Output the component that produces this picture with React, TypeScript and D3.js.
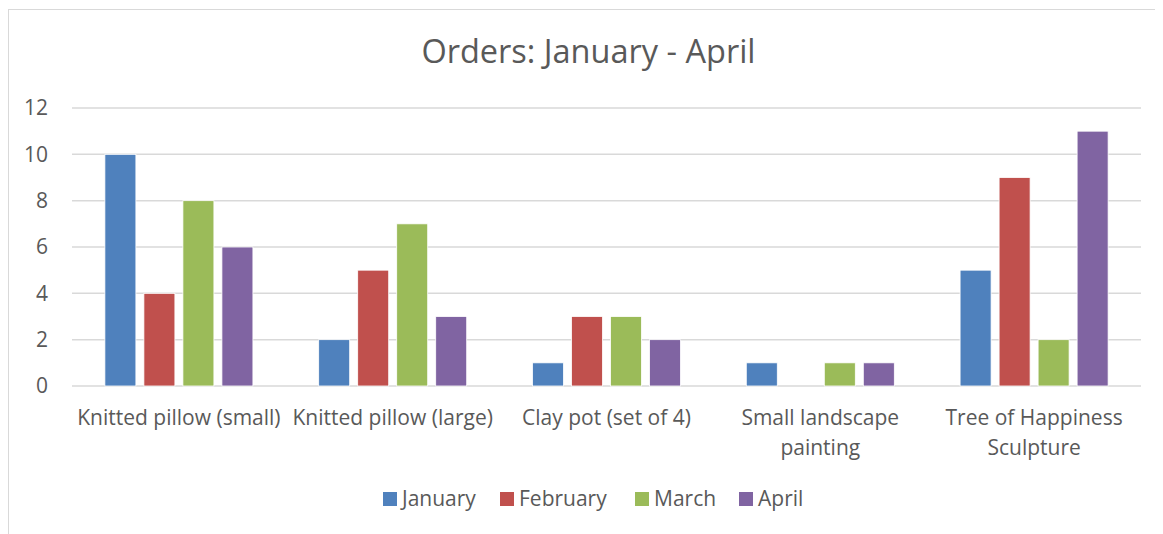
import React, { useEffect, useRef } from "react";
import * as d3 from "d3";

const categories = [
  "Knitted pillow (small)",
  "Knitted pillow (large)",
  "Clay pot (set of 4)",
  "Small landscape painting",
  "Tree of Happiness Sculpture",
];
const months = ["January", "February", "March", "April"];
const january = [10, 2, 1, 1, 5];
const february = [4, 5, 3, 0, 9];
const march = [8, 7, 3, 1, 2];
const april = [6, 3, 2, 1, 11];
const yTicks = [0, 2, 4, 6, 8, 10, 12];
// label line breaks as Excel wraps them
const labelLines = [
  ["Knitted pillow (small)"],
  ["Knitted pillow (large)"],
  ["Clay pot (set of 4)"],
  ["Small landscape", "painting"],
  ["Tree of Happiness", "Sculpture"],
];
const colors = ["#4f81bd", "#c0504d", "#9bbb59", "#8064a2"];

const App = () => {
  const svgRef = useRef<SVGSVGElement>(null);

  useEffect(() => {
    const w = 1155;
    const h = 526;
    const font = "'Open Sans', sans-serif";
    const textColor = "#595959";
    const series = [january, february, march, april];

    const svg = d3.select(svgRef.current).attr("width", w).attr("height", h);
    svg.selectAll("*").remove();

    // chart border
    svg.append("rect")
      .attr("x", 0.5).attr("y", 1.5)
      .attr("width", w + 10).attr("height", h + 10)
      .attr("fill", "#fff").attr("stroke", "#d9d9d9");

    const left = 64, right = 1133, top = 100, bottom = 378;

    const x0 = d3.scaleBand().domain(categories).range([left, right]);
    const x1 = d3.scaleBand().domain(months)
      .range([0, x0.bandwidth()])
      .paddingInner(0.205)
      .paddingOuter(0.843);
    const y = d3.scaleLinear().domain([0, 12]).range([bottom, top]);

    // title
    svg.append("text")
      .attr("x", (left + right) / 2 - 18).attr("y", 55)
      .attr("text-anchor", "middle")
      .attr("font-family", font).attr("font-size", 32.5)
      .attr("fill", textColor)
      .text("Orders: January - April");

    // gridlines
    svg.append("g").selectAll("line")
      .data(yTicks)
      .join("line")
      .attr("x1", left).attr("x2", right)
      .attr("y1", d => y(d)).attr("y2", d => y(d))
      .attr("stroke", "#d9d9d9").attr("stroke-width", 1.5);

    // y labels
    svg.append("g").selectAll("text")
      .data(yTicks)
      .join("text")
      .attr("x", 40).attr("y", d => y(d))
      .attr("dy", "0.35em")
      .attr("text-anchor", "end")
      .attr("font-family", font).attr("font-size", 21)
      .attr("fill", textColor)
      .text(d => d);

    // bars
    const groups = svg.append("g").selectAll("g")
      .data(categories)
      .join("g")
      .attr("transform", d => `translate(${x0(d)},0)`);

    groups.selectAll("rect")
      .data((d, i) => months.map((m, j) => ({ m, v: series[j][i], c: colors[j] })))
      .join("rect")
      .filter(d => d.v > 0)
      .attr("x", d => x1(d.m)!)
      .attr("y", d => y(d.v))
      .attr("width", x1.bandwidth())
      .attr("height", d => y(0) - y(d.v))
      .attr("fill", d => d.c)
      .attr("stroke", "#fff").attr("stroke-width", 0.8);

    // category labels
    const labels = svg.append("g").selectAll("text")
      .data(categories)
      .join("text")
      .attr("x", d => x0(d)! + x0.bandwidth() / 2)
      .attr("y", 417)
      .attr("text-anchor", "middle")
      .attr("font-family", font).attr("font-size", 21)
      .attr("fill", textColor);
    labels.selectAll("tspan")
      .data((d, i) => labelLines[i])
      .join("tspan")
      .attr("x", function () { return (this.parentNode as SVGTextElement).getAttribute("x"); })
      .attr("dy", (d, i) => (i === 0 ? 0 : 30))
      .text(d => d);

    // legend
    const legendX = [375, 492, 627, 731];
    const legend = svg.append("g").selectAll("g")
      .data(months)
      .join("g")
      .attr("transform", (d, i) => `translate(${legendX[i]},484)`);
    legend.append("rect")
      .attr("width", 14).attr("height", 14)
      .attr("fill", (d, i) => colors[i]);
    legend.append("text")
      .attr("x", 19).attr("y", 7)
      .attr("dy", "0.35em")
      .attr("font-family", font).attr("font-size", 21)
      .attr("fill", textColor)
      .text(d => d);
  }, []);

  return <svg ref={svgRef} style={{ display: "block" }} />;
};

export default App;
